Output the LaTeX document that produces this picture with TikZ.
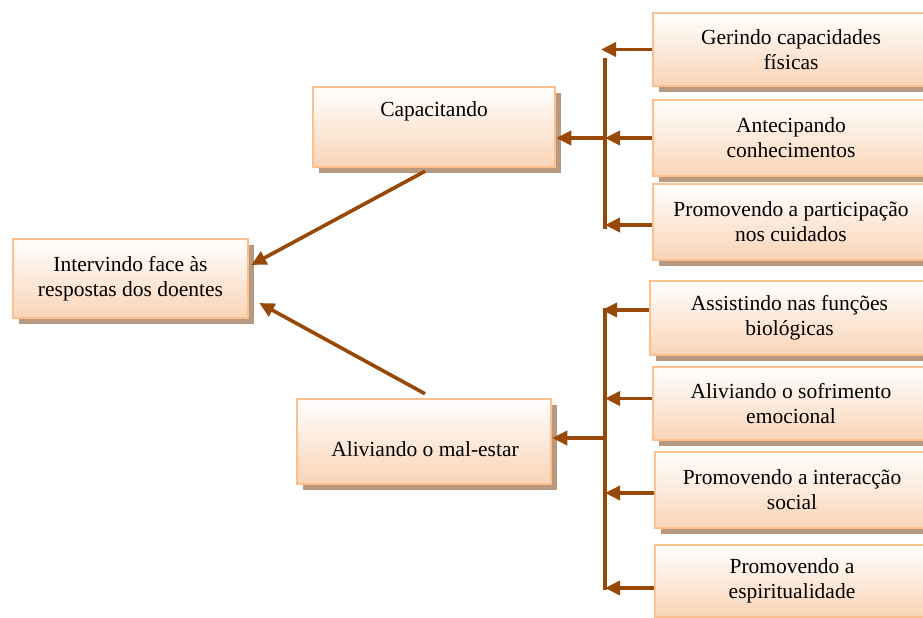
\documentclass[tikz,border=0pt]{standalone}
\usepackage{fontspec}
\setmainfont{Liberation Serif}
\usetikzlibrary{shadows,arrows.meta,calc}
\definecolor{boxline}{RGB}{250,192,144}
\definecolor{boxbot}{RGB}{250,212,182}
\definecolor{shad}{RGB}{185,152,128}
\definecolor{arrc}{RGB}{152,72,7}
\begin{document}
\begin{tikzpicture}[x=1pt,y=-1pt,
  box/.style={draw=boxline, line width=2.5pt, top color=white, bottom color=boxbot,
    rectangle, inner sep=0pt, align=center, font=\fontsize{21.5}{25}\selectfont,
    drop shadow={shadow xshift=6pt, shadow yshift=-6pt, fill=shad, opacity=1}},
  txt/.style={font=\fontsize{21.5}{25}\selectfont, inner sep=0pt, align=center},
  arr/.style={draw=arrc, line width=3.6pt, -{Triangle[length=15pt,width=14pt]}},
  bar/.style={draw=arrc, line width=4pt}]
\useasboundingbox (0,0) rectangle (923,618);
\clip (0,0) rectangle (923,618);

\node[box, minimum width=235pt, minimum height=79pt] (int) at (130.5,278.5) {Intervindo face às\\respostas dos doentes};
\node[box, minimum width=242pt, minimum height=80pt] (cap) at (434,127) {};
\node[txt] (capt) at (434,111) {Capacitando};
\node[box, minimum width=254pt, minimum height=85pt] (ali) at (424,441.5) {};
\node[txt] (alit) at (425,449) {Aliviando o mal-estar};

\node[box, minimum width=276pt, minimum height=73pt] (ger) at (791,49.5) {Gerindo capacidades\\físicas};
\node[box, minimum width=276pt, minimum height=76pt] (ant) at (791,138) {Antecipando\\conhecimentos};
\node[box, minimum width=276pt, minimum height=76pt] (par) at (791,222) {Promovendo a participação\\nos cuidados};
\node[box, minimum width=279pt, minimum height=74pt] (ass) at (789.5,318) {Assistindo nas funções\\biológicas};
\node[box, minimum width=276pt, minimum height=73pt] (sof) at (791,403.5) {Aliviando o sofrimento\\emocional};
\node[box, minimum width=274pt, minimum height=76pt] (soc) at (792,490) {Promovendo a interacção\\social};
\node[box, minimum width=274pt, minimum height=72pt] (esp) at (792,581) {Promovendo a\\espiritualidade};

\coordinate (tb1) at (605,58);
\coordinate (tb2) at (605,229);
\coordinate (bb1) at (605,308);
\coordinate (bb2) at (605,590);
\coordinate (bm) at (605,438);

\draw[bar] (tb1) -- (tb2);
\draw[arr] (ger.west) -- ([xshift=-4pt]ger.west -| tb1);
\draw[arr] (ant.west) -- (ant.west -| tb1);
\draw[arr] ([yshift=-3pt]par.west) -- ([yshift=-3pt]par.west -| tb1);
\draw[arr] (ant.west -| tb1) -- (ant.west -| cap.east);

\draw[bar] (bb1) -- (bb2);
\draw[arr] ([yshift=8pt]ass.west) -- ([xshift=-3pt,yshift=8pt]ass.west -| bb1);
\draw[arr] ([yshift=5pt]sof.west) -- ([yshift=5pt]sof.west -| bb1);
\draw[arr] ([yshift=-3pt]soc.west) -- ([yshift=-3pt]soc.west -| bb1);
\draw[arr] ([yshift=-7pt]esp.west) -- ([yshift=-7pt]esp.west -| bb1);
\draw[arr] (bm) -- (bm -| ali.east);

\draw[arr] ([xshift=-9pt,yshift=-3pt]cap.south) -- ([xshift=2pt,yshift=13.5pt]int.east);
\draw[arr] ([xshift=1pt,yshift=4pt]ali.north) -- ([xshift=10pt,yshift=-24.5pt]int.east);
\end{tikzpicture}
\end{document}
